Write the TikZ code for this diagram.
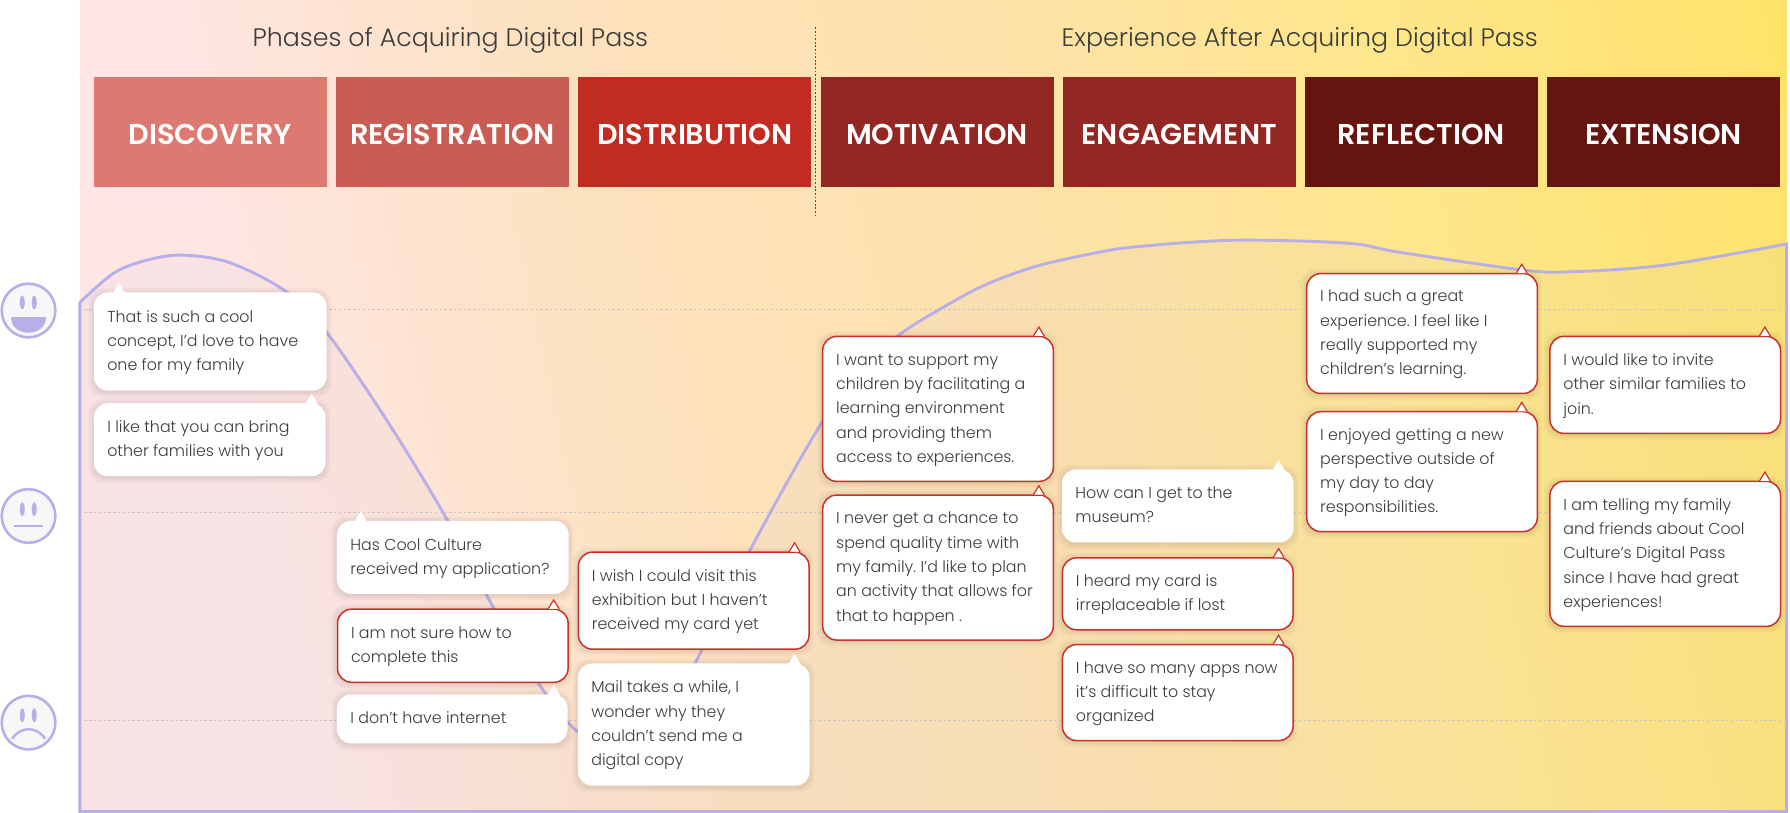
\documentclass[tikz,border=0pt]{standalone}
\usepackage{fontspec}
\setmainfont{Poppins Light}
\newfontfamily\semif{Poppins SemiBold}
\definecolor{lav}{HTML}{B8AEE8}
\definecolor{redb}{HTML}{C8322B}
\definecolor{txt}{HTML}{3C3C3C}
\definecolor{hA}{HTML}{DC7A72}
\definecolor{hB}{HTML}{CB5C53}
\definecolor{hC}{HTML}{C22B22}
\definecolor{hD}{HTML}{922723}
\definecolor{hE}{HTML}{66140F}
\definecolor{g1}{HTML}{FDE6E4}
\definecolor{g2}{HTML}{FDE2C0}
\definecolor{g3}{HTML}{FDE2A8}
\definecolor{g4}{HTML}{FEE68F}
\definecolor{g5}{HTML}{FEE369}
\pgfdeclarehorizontalshading{bgshade}{100bp}{
 color(0bp)=(g1);
 color(28bp)=(g1);
 color(40bp)=(g2);
 color(55bp)=(g3);
 color(65bp)=(g4);
 color(80bp)=(g5);
 color(100bp)=(g5)}
\tikzset{
 x=1.1416pt,y=-1.1416pt,
 bub/.style={anchor=north west,rounded corners=14pt,fill=white,inner sep=0pt,text=txt,font=\fontsize{15.85}{24.3}\selectfont\frenchspacing},
 plain/.style={bub},
 redbub/.style={bub,draw=redb,line width=1.5pt},
 head/.style={anchor=north west,inner sep=0pt,text=white,align=center,font=\semif\fontsize{28.7}{32}\selectfont},
 title/.style={inner sep=0pt,text=txt,font=\fontsize{25.3}{30}\selectfont},
 guide/.style={black!22,line width=.9pt,dash pattern=on 2.4pt off 2.4pt},
 face/.style={draw=lav,line width=2.6pt,fill=black!3},
 feat/.style={fill=lav},
}
\newcommand{\header}[4]{% name, left x, colour, text
 \node[head,fill=#3,minimum width=233pt,minimum height=110pt] (#1) at (#2,67) {\raisebox{-13pt}[0pt][0pt]{#4}};}
\newcommand{\bubble}[8]{% name x1 y1 x2 y2 ptr style text
 \pgfmathsetmacro\bw{(#4-#2)*1.1416}
 \pgfmathsetmacro\bh{(#5-#3)*1.1416}
 \foreach \g in {0,1.5,3,4.5}{\fill[black,opacity=.025,rounded corners=14pt] (#2-\g,#3+1-\g) rectangle (#4+\g,#5+1.5+\g);}
 \node[#7,minimum width=\bw pt,minimum height=\bh pt] (#1) at (#2,#3) {\makebox[\bw pt][l]{\hspace*{13.5pt}\begin{tabular}{@{}l@{}}#8\end{tabular}}};
}
\newcommand{\ptrw}[2]{\fill[white] (#1-5.5,#2+1) -- (#1,#2-8) -- (#1+5.5,#2+1) -- cycle;}
\newcommand{\ptrr}[2]{\fill[white] (#1-4.5,#2+.3) -- (#1,#2-7.5) -- (#1+4.5,#2+.3) -- cycle;
 \draw[redb,line width=1.2pt,line join=miter] (#1-4.8,#2+.4) -- (#1,#2-7.5) -- (#1+4.8,#2+.4);}
\begin{document}
\begin{tikzpicture}
\useasboundingbox (0,0) rectangle (1568,712.15);
\shade[shading=bgshade,shading angle=12] (70,0) rectangle (1565,711);
% curve area
\def\curvepts{(70,265) (100,239) (130,227.5) (160,223.5) (201,230) (250,255) (286,291) (340,370) (391,454) (426,521) (470,596) (505,640) (550,662) (585,625) (612,575) (657,482) (720,370) (760,318) (788,293) (823,271) (862,250) (905,234) (950,223.5) (992,216.5) (1080,210.5) (1180,213) (1226,221) (1334,236.5) (1378,238) (1460,232) (1565,213.7)}
\fill[lav,opacity=.07] plot[smooth,tension=.55] coordinates {\curvepts} -- (1565,711) -- (70,711) -- cycle;
\foreach \yy in {271.5,449,631}{\draw[guide] (74,\yy) -- (1565,\yy);}
\draw[lav,line width=2.9pt,line join=miter] plot[smooth,tension=.55] coordinates {\curvepts} -- (1565,711) -- (70,711) -- cycle;
% phase divider
\draw[black!70,line width=.9pt,dash pattern=on 1.8pt off 1.8pt] (714.5,24) -- (714.5,188);
\node[title] (t1) at (394.5,35) {Phases of Acquiring Digital Pass};
\node[title] (t2) at (1138.5,35) {Experience After Acquiring Digital Pass};
% headers
\header{h1}{82}{hA}{DISCOVERY}
\header{h2}{294.2}{hB}{REGISTRATION}
\header{h3}{506.4}{hC}{DISTRIBUTION}
\header{h4}{718.6}{hD}{MOTIVATION}
\header{h5}{930.7}{hD}{ENGAGEMENT}
\header{h6}{1142.8}{hE}{REFLECTION}
\header{h7}{1355}{hE}{EXTENSION}
% faces
\draw[face] (25,272) circle (23.5);
\fill[feat] (19.5,265) ellipse (2.2 and 6); \fill[feat] (30,265) ellipse (2.2 and 6);
\fill[feat] (9.5,278) -- (40.5,278) .. controls (40.5,296) and (9.5,296) .. (9.5,278) -- cycle;
\draw[face] (25,452) circle (23.5);
\fill[feat] (19.5,446) ellipse (2.2 and 6); \fill[feat] (30,446) ellipse (2.2 and 6);
\draw[lav,line width=2.4pt] (12.5,461) -- (37.5,461);
\draw[face] (25,633) circle (23.5);
\fill[feat] (19.5,626.5) ellipse (2.2 and 6); \fill[feat] (30,626.5) ellipse (2.2 and 6);
\draw[lav,line width=2.4pt] (10.7,647) .. controls (18,636) and (32,636) .. (39.5,647);
% bubbles
\bubble{b1}{82}{256}{286}{342}{104}{plain}{That is such a cool\\concept, I’d love to have\\one for my family}
\ptrw{104}{256}
\bubble{b2}{82}{353}{285}{417}{273}{plain}{I like that you can bring\\other families with you}
\ptrw{273}{353}
\bubble{b3}{295}{456}{498}{520}{316}{plain}{Has Cool Culture\\received my application?}
\ptrw{316}{456}
\bubble{b4}{295}{533}{497}{597}{485}{redbub}{I am not sure how to\\complete this}
\ptrr{485}{533}
\bubble{b5}{295}{608}{497}{651}{485}{plain}{I don’t have internet}
\ptrw{485}{608}
\bubble{b6}{506}{483}{708}{568}{696}{redbub}{I wish I could visit this\\exhibition but I haven’t\\received my card yet}
\ptrr{696}{483}
\bubble{b7}{506}{581}{709}{688}{696}{plain}{Mail takes a while, I\\wonder why they\\couldn’t send me a\\digital copy}
\ptrw{696}{581}
\bubble{b8}{720}{294}{922}{421}{910}{redbub}{I want to support my\\children by facilitating a\\learning environment\\and providing them\\access to experiences.}
\ptrr{910}{294}
\bubble{b9}{720}{433}{922}{560}{910}{redbub}{I never get a chance to\\spend quality time with\\my family. I’d like to plan\\an activity that allows for\\that to happen .}
\ptrr{910}{433}
\bubble{b10}{930}{411}{1133}{475}{1120}{plain}{How can I get to the\\museum?}
\ptrw{1120}{411}
\bubble{b11}{930}{488}{1132}{551}{1120}{redbub}{I heard my card is\\irreplaceable if lost}
\ptrr{1120}{488}
\bubble{b12}{930}{564}{1132}{648}{1120}{redbub}{I have so many apps now\\it’s difficult to stay\\organized}
\ptrr{1120}{564}
\bubble{b13}{1144}{239}{1346}{344}{1333}{redbub}{I had such a great\\experience. I feel like I\\really supported my\\children’s learning.}
\ptrr{1333}{239}
\bubble{b14}{1144}{360}{1346}{465}{1333}{redbub}{I enjoyed getting a new\\perspective outside of\\my day to day\\responsibilities.}
\ptrr{1333}{360}
\bubble{b15}{1357}{294}{1559}{379}{1546}{redbub}{I would like to invite\\other similar families to\\join.}
\ptrr{1546}{294}
\bubble{b16}{1357}{421}{1559}{548}{1546}{redbub}{I am telling my family\\and friends about Cool\\Culture’s Digital Pass\\since I have had great\\experiences!}
\ptrr{1546}{421}
\end{tikzpicture}
\end{document}
